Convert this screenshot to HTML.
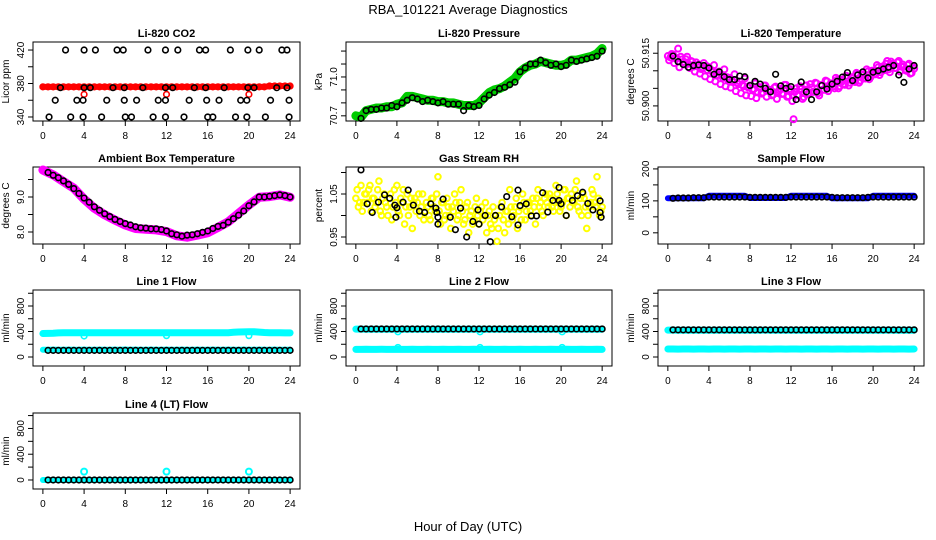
<!DOCTYPE html>
<html><head><meta charset="utf-8"><style>
html,body{margin:0;padding:0;background:#fff;}
svg{display:block;font-family:"Liberation Sans",Arial,sans-serif;}
</style></head><body>
<svg id="chart" width="936" height="540" viewBox="0 0 936 540" xmlns="http://www.w3.org/2000/svg">
<rect width="936" height="540" fill="#fff"/>
<text x="468" y="14" text-anchor="middle" font-size="13">RBA_101221  Average Diagnostics</text>
<text x="468" y="531" text-anchor="middle" font-size="13">Hour of Day (UTC)</text>
</svg>
<script>
// ---------- data ----------
const xTicks = [0,4,8,12,16,20,24];
const co2BlackHours = [2.2,4.0,5.1,7.2,7.8,10.2,11.9,13.1,15.2,15.8,18.2,19.9,21.0,23.2,23.7,
 1.7,4.0,4.6,6.8,7.9,9.7,11.9,12.6,14.7,15.8,17.6,19.9,20.5,22.7,23.7,
 1.2,3.3,3.9,6.2,7.9,9.1,11.2,11.9,14.2,15.9,17.1,19.2,19.8,22.1,23.9,
 0.6,2.7,3.9,5.7,8.0,8.6,10.7,11.9,13.7,16.0,16.5,18.7,19.8,21.6,23.9];
const co2BlackVals = [420,420,420,420,420,420,420,420,420,420,420,420,420,420,420,
 375,375,375,375,375,375,375,375,375,375,375,375,375,375,375,
 360,360,360,360,360,360,360,360,360,360,360,360,360,360,360,
 340,340,340,340,340,340,340,340,340,340,340,340,340,340,340];
const co2RedVals = [376,376,376,376,376,376,376,376,376,376,376,376,376,376,376,376,376,376,376,376,376,376,376,376,376,376,376,376,376,376,376,376,376,376,376,376,376,376,376,376,376,376,376,376,377,377,377,377,377];
const co2RedOutHours = [4,12,20];
const co2RedOutVals = [367,367,367];

const presGreenVals = [70.70,70.69,70.74,70.75,70.76,70.76,70.77,70.77,70.79,70.80,70.85,70.85,70.84,70.83,70.82,70.82,70.81,70.81,70.80,70.80,70.79,70.78,70.78,70.78,70.80,70.84,70.88,70.90,70.91,70.93,70.96,70.99,71.04,71.07,71.09,71.10,71.12,71.11,71.10,71.09,71.09,71.10,71.13,71.13,71.14,71.15,71.16,71.18,71.22];
const presBlackVals = [70.68,70.74,70.75,70.75,70.76,70.76,70.78,70.77,70.80,70.82,70.84,70.83,70.81,70.82,70.81,70.80,70.81,70.79,70.79,70.79,70.74,70.78,70.77,70.78,70.83,70.86,70.88,70.91,70.92,70.94,70.96,71.04,71.07,71.10,71.10,71.13,71.11,71.09,71.10,71.08,71.09,71.13,71.12,71.13,71.14,71.15,71.16,71.20];

const tempMagVals = [50.9142,50.9138,50.9146,50.9135,50.9163,50.9140,50.9125,50.9133,50.9120,50.9128,50.9112,50.9124,50.9118,50.9105,50.9122,50.9114,50.9110,50.9102,50.9116,50.9095,50.9098,50.9088,50.9104,50.9082,50.9080,50.9072,50.9090,50.9066,50.9070,50.9060,50.9078,50.9054,50.9058,50.9046,50.9064,50.9040,50.9050,50.9038,50.9058,50.9044,50.9045,50.9032,50.9055,50.9040,50.9048,50.9035,50.9060,50.9028,50.9042,50.8962,50.9050,50.9030,50.9048,50.9025,50.9058,50.9036,50.9052,50.9040,50.9064,50.9030,50.9060,50.9046,50.9070,50.9052,50.9062,50.9050,50.9074,50.9056,50.9070,50.9060,50.9080,50.9066,50.9078,50.9068,50.9090,50.9072,50.9088,50.9078,50.9098,50.9082,50.9100,50.9090,50.9110,50.9096,50.9110,50.9120,50.9104,50.9126,50.9118,50.9108,50.9128,50.9112,50.9112,50.9100,50.9120,50.9094,50.9106];
const tempMagVals2 = [50.9130,50.9148,50.9122,50.9136,50.9110,50.9132,50.9118,50.9140,50.9108,50.9126,50.9098,50.9115,50.9092,50.9110,50.9084,50.9102,50.9076,50.9096,50.9070,50.9088,50.9062,50.9080,50.9056,50.9074,50.9052,50.9068,50.9042,50.9062,50.9036,50.9056,50.9030,50.9052,50.9028,50.9048,50.9022,50.9054,50.9035,50.9058,50.9026,50.9046,50.9030,50.9052,50.9020,50.9044,50.9034,50.9060,50.9026,50.9048,50.9014,50.9040,50.9030,50.9056,50.9020,50.9046,50.9034,50.9062,50.9040,50.9066,50.9036,50.9058,50.9046,50.9072,50.9042,50.9064,50.9056,50.9080,50.9050,50.9074,50.9062,50.9086,50.9058,50.9082,50.9070,50.9094,50.9066,50.9090,50.9080,50.9104,50.9076,50.9100,50.9092,50.9116,50.9088,50.9112,50.9102,50.9128,50.9096,50.9120,50.9108,50.9124,50.9098,50.9118,50.9104,50.9116,50.9092,50.9112];
const tempBlackVals = [50.9142,50.9126,50.9118,50.9110,50.9115,50.9117,50.9115,50.9108,50.9090,50.9097,50.9083,50.9075,50.9075,50.9085,50.9083,50.9058,50.9070,50.9062,50.9050,50.9040,50.9090,50.9057,50.9050,50.9055,50.9018,50.9068,50.9040,50.9018,50.9040,50.9058,50.9048,50.9062,50.9070,50.9082,50.9095,50.9072,50.9088,50.9097,50.9080,50.9096,50.9100,50.9105,50.9110,50.9115,50.9088,50.9067,50.9105,50.9115];

const ambMagVals = [9.77,9.63,9.44,9.25,8.94,8.68,8.49,8.34,8.20,8.10,8.08,8.06,8.01,7.89,7.85,7.91,7.98,8.13,8.29,8.53,8.77,8.99,9.01,9.06,8.99];
const ambBlackVals = [9.70,9.62,9.55,9.46,9.36,9.24,9.10,8.97,8.85,8.72,8.62,8.52,8.44,8.36,8.30,8.24,8.20,8.15,8.12,8.11,8.09,8.09,8.07,8.03,7.95,7.92,7.88,7.91,7.92,7.95,7.99,8.03,8.10,8.16,8.19,8.28,8.38,8.48,8.60,8.75,8.86,9.00,9.00,9.02,9.04,9.06,9.04,9.00];

const rhYellowVals = [1.04,1.02,1.07,1.03,1.05,1.06,1.01,1.04,1.03,1.08,1.00,1.05,1.02,1.04,0.99,1.06,1.07,1.00,1.03,0.98,1.05,1.02,0.97,1.04,1.03,1.00,1.05,1.01,1.02,0.99,1.04,1.01,1.09,0.98,1.03,1.00,1.02,0.97,1.01,1.03,1.00,1.06,0.98,1.02,0.96,1.01,0.99,1.04,0.98,1.02,1.00,0.96,1.01,0.97,0.99,0.94,1.00,1.03,0.96,1.01,1.06,0.99,1.02,0.97,1.02,1.05,0.99,1.03,1.01,1.04,0.98,1.06,1.03,1.00,1.05,1.02,1.04,1.01,1.07,1.03,1.02,1.06,1.00,1.04,1.05,1.03,1.08,1.01,1.00,1.04,0.97,1.02,1.06,1.03,1.09,1.00,1.02];
const rhYellowVals2 = [1.06,1.03,1.01,1.05,1.03,1.07,1.04,1.02,1.06,1.01,1.04,1.03,1.00,1.05,1.02,1.03,1.01,1.04,1.06,1.02,1.00,1.04,1.03,1.01,1.05,1.02,0.99,1.03,1.00,1.04,1.02,1.05,1.01,1.03,0.99,1.04,1.00,1.02,1.05,0.99,1.03,1.01,0.99,1.03,1.00,0.98,1.02,1.00,1.01,0.99,1.03,1.00,0.98,1.02,1.00,0.97,1.02,0.99,1.01,0.98,1.02,1.00,1.04,1.01,0.99,1.03,1.01,1.03,1.00,1.02,1.04,1.02,1.01,1.04,1.03,1.05,1.02,1.03,1.05,1.01,1.03,1.06,1.04,1.02,1.03,1.06,1.02,1.04,1.05,1.02,1.00,1.03,1.05,1.02,1.04,1.01];
const rhBlackHours = [0.5,1.1,1.6,2.2,2.8,3.3,3.8,3.9,4.0,4.6,5.1,5.6,6.2,6.7,7.3,7.8,7.9,8.0,8.0,8.5,9.2,9.7,10.2,10.8,11.4,11.9,12.0,12.6,13.1,13.6,14.2,14.7,15.2,15.8,15.8,16.0,16.6,17.1,17.6,18.2,18.7,19.2,19.8,19.8,20.0,20.5,21.1,21.6,22.1,22.6,23.1,23.8,23.8,23.9];
const rhBlackVals = [1.106,1.027,1.007,1.031,1.048,1.040,1.024,0.996,1.018,1.031,1.059,1.024,1.010,1.007,1.027,1.017,1.007,0.996,0.980,1.038,0.996,0.967,1.017,0.950,0.986,1.013,0.980,1.000,0.939,1.000,1.020,1.044,0.997,0.978,1.059,1.023,1.027,0.999,0.999,1.053,1.008,1.035,1.065,1.035,1.027,1.000,1.035,1.046,1.054,1.028,1.013,1.034,1.007,0.996];

const sampBlueVals = [108,108,108,108,108,108,108,108,116,116,116,116,116,116,116,116,109,109,109,109,109,109,109,109,116,116,116,116,116,116,116,116,108,108,108,108,108,108,108,108,116,116,116,116,116,116,116,116,116];
const sampBlackVals = [108,109,109,109,110,110,110,112,112,112,112,112,112,112,112,111,111,111,111,111,111,111,111,112,112,112,112,112,112,112,112,111,110,110,110,110,110,110,111,112,112,112,112,112,112,112,112,112];

const l1CyanUpVals = [368,370,372,378,380,379,380,381,380,379,380,381,380,380,379,380,381,380,380,379,380,381,380,380,379,380,381,380,380,379,380,381,380,380,379,380,382,388,392,394,396,395,390,385,382,380,380,378,378];
const l1CyanLowVals = [115,115,116,115,115,116,115,115,116,115,115,116,115,115,116,115,118,115,116,115,115,116,115,115,116,115,115,116,115,115,116,115,115,116,115,115,116,115,115,116,115,115,116,115,115,116,115,115,116];
const l1BlackVals = [104,104,104,104,104,104,104,104,104,104,104,104,104,104,104,104,104,104,104,104,104,104,104,104,104,104,104,104,104,104,104,104,104,104,104,104,104,104,104,104,104,104,104,104,104,104,104,104];
const l1OutHours = [4,12,20];
const l1OutVals = [330,335,335];

const l2CyanUpVals = [438,438,436,436,437,436,436,437,436,436,437,436,436,437,436,436,437,436,436,437,436,436,437,436,436,437,436,436,437,436,436,437,436,436,437,436,436,437,436,436,437,436,436,437,436,436,437,436,436];
const l2CyanLowVals = [120,120,121,120,120,121,120,120,121,120,120,121,120,120,121,120,120,121,120,120,121,120,120,121,120,120,121,120,120,121,120,120,121,120,120,121,120,120,121,120,120,121,120,120,121,120,120,121,120];
const l2BlackVals = [440,440,440,440,440,440,440,440,440,440,440,440,440,440,440,440,440,440,440,440,440,440,440,440,440,440,440,440,440,440,440,440,440,440,440,440,440,440,440,440,440,440,440,440,440,440,440,440];
const l2OutHours = [4.1,12.1,20.1,4.1,12.1,20.1];
const l2OutVals = [150,150,150,395,395,395];

const l3CyanUpVals = [422,422,421,421,422,421,421,422,421,421,422,421,421,422,421,421,422,421,421,422,421,421,422,421,421,422,421,421,422,421,421,422,421,421,422,421,421,422,421,421,422,421,421,422,421,421,422,421,421];
const l3CyanLowVals = [125,125,124,125,125,124,125,125,124,125,125,124,125,125,124,125,125,124,125,125,124,125,125,124,125,125,124,125,125,124,125,125,124,125,125,124,125,125,124,125,125,124,125,125,124,125,125,124,125];
const l3BlackVals = [426,426,426,426,426,426,426,426,426,426,426,426,426,426,426,426,426,426,426,426,426,426,426,426,426,426,426,426,426,426,426,426,426,426,426,426,426,426,426,426,426,426,426,426,426,426,426,426];

const l4CyanVals = [0,0,0,0,0,0,0,0,0,0,0,0,0,0,0,0,0,0,0,0,0,0,0,0,0,0,0,0,0,0,0,0,0,0,0,0,0,0,0,0,0,0,0,0,0,0,0,0,0];
const l4BlackVals = [0,0,0,0,0,0,0,0,0,0,0,0,0,0,0,0,0,0,0,0,0,0,0,0,0,0,0,0,0,0,0,0,0,0,0,0,0,0,0,0,0,0,0,0,0,0,0,0];
const l4OutHours = [4,12,20];
const l4OutVals = [130,130,130];

// ---------- drawing ----------
const NS = "http://www.w3.org/2000/svg";
const svg = document.getElementById('chart');
const colLeft = [33,346,658], colW = [267,266,266];
const rowTop = [42,167,290,413], rowBot = [121,244,366,489];
function mk(tag, attrs, parent){ const e=document.createElementNS(NS,tag); for(const k in attrs) e.setAttribute(k,attrs[k]); (parent||svg).appendChild(e); return e; }
function slug(s){ return s.toLowerCase().replace(/[^a-z0-9]+/g,'-').replace(/^-|-$/g,''); }

function panel(c, r, title, ylab, ymin, ymax, yticks, ylabels){
  const L=colLeft[c], W=colW[c], T=rowTop[r], B=rowBot[r];
  const g = mk('g',{});
  
  
  const p = {g, x:h=>L+(h+0.96)/25.92*W, y:v=>B-(v-ymin)/(ymax-ymin)*(B-T)};
  const t = mk('text',{x:L+W/2,y:T-5,'text-anchor':'middle','font-size':11,'font-weight':'bold'},g); t.textContent=title;
  
  
  const box = mk('rect',{x:L,y:T,width:W,height:B-T,fill:'none',stroke:'#000','stroke-width':1},g);
  
  
  xTicks.forEach(h=>{
    const X=p.x(h);
    mk('line',{x1:X,y1:B,x2:X,y2:B+5,stroke:'#000'},g);
    const tl=mk('text',{x:X,y:B+18,'text-anchor':'middle','font-size':10},g); tl.textContent=h;
    
    
  });
  yticks.forEach(v=>{
    const Y=p.y(v);
    mk('line',{x1:L,y1:Y,x2:L-5,y2:Y,stroke:'#000'},g);
  });
  ylabels.forEach(s=>{
    const Y=p.y(parseFloat(s));
    const tl=mk('text',{x:0,y:0,'text-anchor':'middle','font-size':10,transform:`translate(${L-9},${Y}) rotate(-90)`},g); tl.textContent=s;
    
    
  });
  const yt=mk('text',{x:0,y:0,'text-anchor':'middle','font-size':10,transform:`translate(${L-24},${(T+B)/2}) rotate(-90)`},g); yt.textContent=ylab;
  
  
  return p;
}
function pts(p, hours, vals, color, name, rad, sw){
  const g = mk('g',{fill:'none',stroke:color,'stroke-width':sw||1.6},p.g);
  
  
  vals.forEach((v,i)=>{ mk('circle',{cx:p.x(hours(i)),cy:p.y(v),r:rad||2.8},g); });
}
function band(p, hours, vals, color, w, name){
  const d = vals.map((v,i)=>`${i?'L':'M'}${p.x(hours(i)).toFixed(1)},${p.y(v).toFixed(1)}`).join('');
  const e = mk('path',{d, fill:'none', stroke:color,'stroke-width':w,'stroke-linejoin':'round','stroke-linecap':'round'},p.g);
  
  
}
const half = i=>i*0.5, halfOff = i=>0.5+i*0.5, quarter = i=>i*0.25, hourly = i=>i, eighth = i=>0.125+i*0.25;
const arr = a=>i=>a[i];

// CO2
let p = panel(0,0,'Li-820 CO2','Licor ppm',335.2,429.6,[340,360,380,400,420],['340','380','420']);
band(p, half, co2RedVals, '#ff0000', 6, 'co2-red-band');
pts(p, half, co2RedVals, '#ff0000', 'co2-red-points');
pts(p, arr(co2RedOutHours), co2RedOutVals, '#ff0000', 'co2-red-outliers');
pts(p, arr(co2BlackHours), co2BlackVals, '#000', 'co2-black-points');
// Pressure
p = panel(1,0,'Li-820 Pressure','kPa',70.66,71.27,[70.7,70.8,70.9,71.0,71.1,71.2],['70.7','71.0']);
band(p, half, presGreenVals, '#00cc00', 9, 'pressure-green-band');
pts(p, half, presGreenVals, '#00cc00', 'pressure-green-points');
pts(p, halfOff, presBlackVals, '#000', 'pressure-black-points');
// Temperature
p = panel(2,0,'Li-820 Temperature','degrees C',50.8957,50.9182,[50.900,50.905,50.910,50.915],['50.900','50.915']);
pts(p, quarter, tempMagVals, '#ff00ff', 'temperature-magenta-points', 3, 2);
pts(p, eighth, tempMagVals2, '#ff00ff', 'temperature-magenta-points-2', 3, 2);
pts(p, halfOff, tempBlackVals, '#000', 'temperature-black-points');
// Ambient
p = panel(0,1,'Ambient Box Temperature','degrees C',7.657,9.857,[8.0,8.5,9.0,9.5],['8.0','9.0']);
band(p, hourly, ambMagVals, '#ff00ff', 9, 'ambient-magenta-band');
pts(p, halfOff, ambBlackVals, '#000', 'ambient-black-points');
// RH
p = panel(1,1,'Gas Stream RH','percent',0.9337,1.1128,[0.95,1.00,1.05,1.10],['0.95','1.05']);
pts(p, quarter, rhYellowVals, '#ffff00', 'rh-yellow-points', 2.8, 2);
pts(p, eighth, rhYellowVals2, '#ffff00', 'rh-yellow-points-2', 2.8, 2);
pts(p, arr(rhBlackHours), rhBlackVals, '#000', 'rh-black-points');
// Sample flow
p = panel(2,1,'Sample Flow','ml/min',-35,206,[0,50,100,150,200],['0','100','200']);
band(p, half, sampBlueVals, '#0000ff', 6, 'sample-blue-band');
pts(p, halfOff, sampBlackVals, '#000', 'sample-black-points');
// Line 1
p = panel(0,2,'Line 1 Flow','ml/min',-141,1051,[0,200,400,600,800,1000],['0','400','800']);
band(p, half, l1CyanUpVals, '#00ffff', 7, 'line1-cyan-upper');
band(p, half, l1CyanLowVals, '#00ffff', 6, 'line1-cyan-lower');
pts(p, arr(l1OutHours), l1OutVals, '#00ffff', 'line1-cyan-outliers');
pts(p, halfOff, l1BlackVals, '#000', 'line1-black-points');
// Line 2
p = panel(1,2,'Line 2 Flow','ml/min',-141,1051,[0,200,400,600,800,1000],['0','400','800']);
band(p, half, l2CyanUpVals, '#00ffff', 7, 'line2-cyan-upper');
band(p, half, l2CyanLowVals, '#00ffff', 7, 'line2-cyan-lower');
pts(p, arr(l2OutHours), l2OutVals, '#00ffff', 'line2-cyan-outliers');
pts(p, halfOff, l2BlackVals, '#000', 'line2-black-points');
// Line 3
p = panel(2,2,'Line 3 Flow','ml/min',-141,1051,[0,200,400,600,800,1000],['0','400','800']);
band(p, half, l3CyanUpVals, '#00ffff', 7, 'line3-cyan-upper');
band(p, half, l3CyanLowVals, '#00ffff', 7, 'line3-cyan-lower');
pts(p, halfOff, l3BlackVals, '#000', 'line3-black-points');
// Line 4
p = panel(0,3,'Line 4 (LT) Flow','ml/min',-140,1040,[0,200,400,600,800,1000],['0','400','800']);
band(p, half, l4CyanVals, '#00ffff', 6, 'line4-cyan-band');
pts(p, arr(l4OutHours), l4OutVals, '#00ffff', 'line4-cyan-outliers', 3, 2);
pts(p, halfOff, l4BlackVals, '#000', 'line4-black-points');
</script>
</body></html>
